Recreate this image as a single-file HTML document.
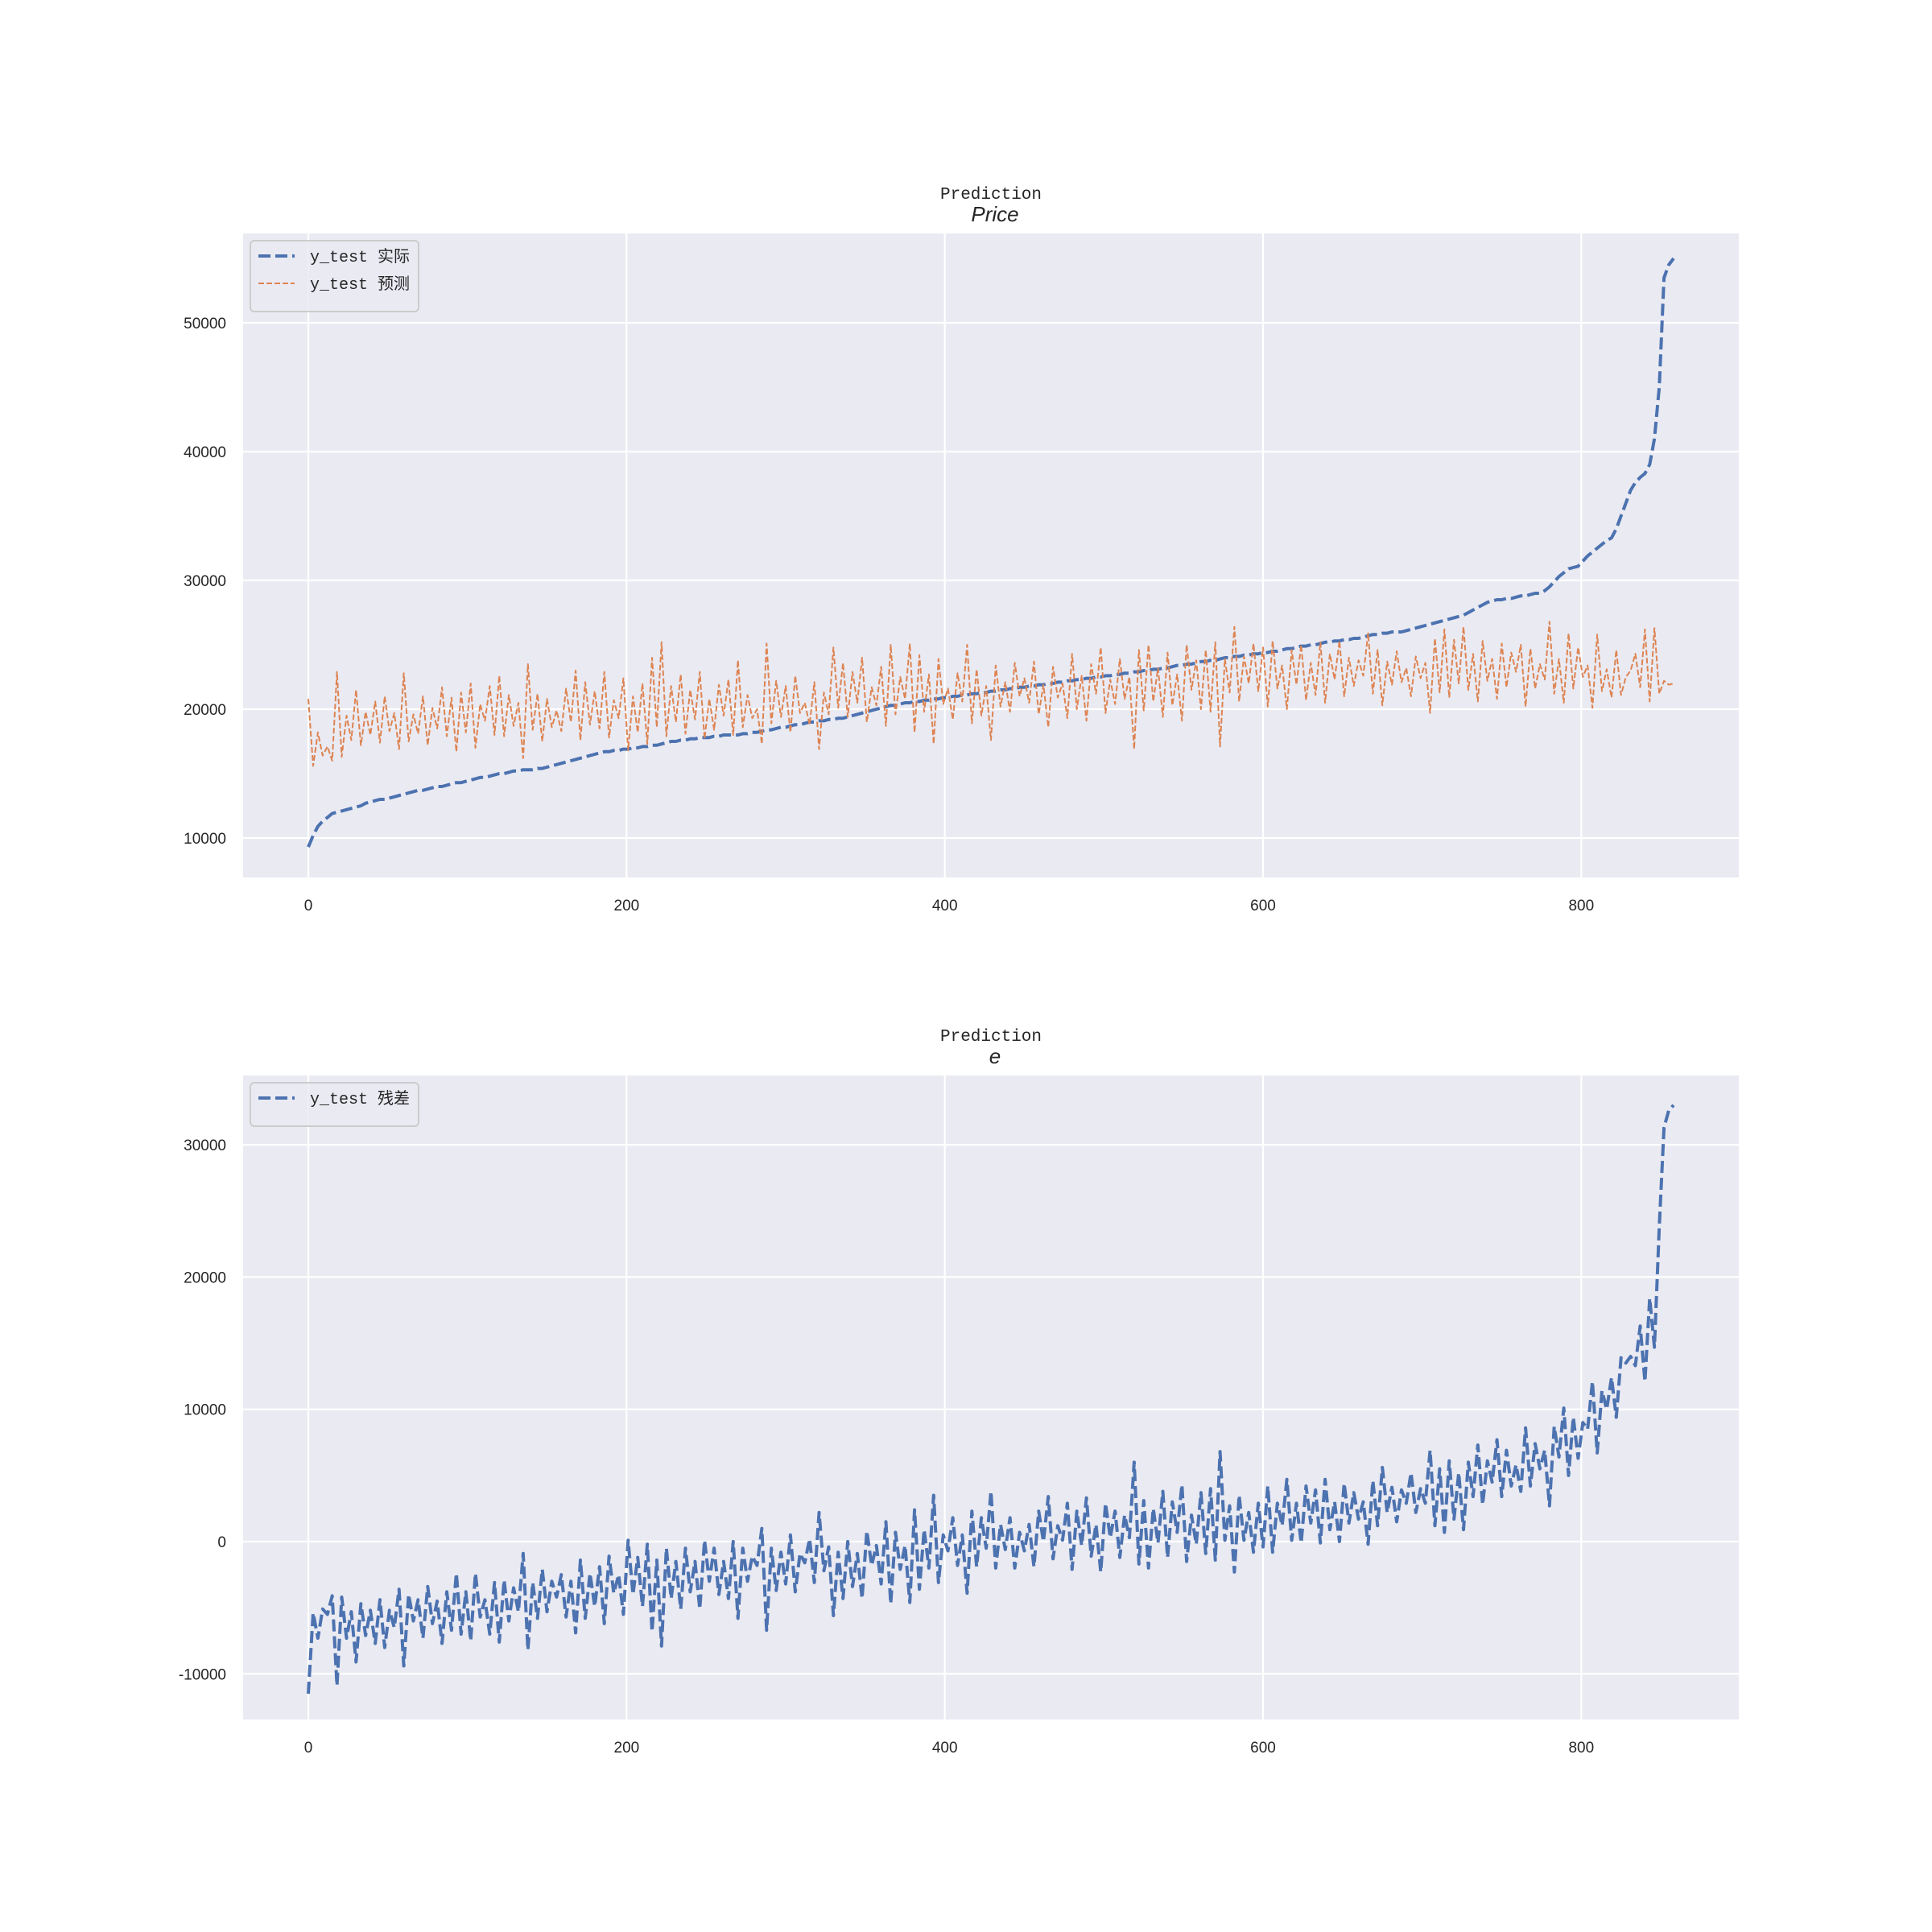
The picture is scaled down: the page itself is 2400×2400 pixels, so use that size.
<!DOCTYPE html>
<html><head><meta charset="utf-8"><style>
html,body{margin:0;padding:0;background:#fff;}
svg{display:block;}
text{font-family:"Liberation Sans","Noto Sans CJK SC",sans-serif;fill:#262626;}
.mono{font-family:"Liberation Mono","Noto Sans CJK SC",monospace;}
</style></head><body>
<svg id="fig" width="2400" height="2400" viewBox="0 0 2400 2400" xmlns="http://www.w3.org/2000/svg"></svg>
<script>
// sample step along test index
const step = 3;
// y_test actual (thousands)
const actual = [9.3,10.2,10.9,11.3,11.6,11.9,12.0,12.1,12.2,12.3,
12.4,12.5,12.7,12.8,12.9,13.0,13.0,13.1,13.2,13.3,
13.4,13.5,13.6,13.7,13.7,13.8,13.9,14.0,14.0,14.1,
14.2,14.3,14.3,14.4,14.5,14.6,14.7,14.7,14.8,14.9,
15.0,15.0,15.1,15.2,15.2,15.3,15.3,15.3,15.4,15.4,
15.5,15.6,15.7,15.8,15.9,16.0,16.1,16.2,16.3,16.4,
16.5,16.6,16.7,16.7,16.8,16.8,16.9,16.9,17.0,17.0,
17.1,17.1,17.2,17.2,17.3,17.4,17.5,17.5,17.6,17.6,
17.7,17.7,17.8,17.8,17.8,17.9,17.9,18.0,18.0,18.0,
18.0,18.1,18.1,18.2,18.2,18.3,18.4,18.4,18.5,18.6,
18.6,18.7,18.8,18.8,18.9,19.0,19.0,19.1,19.1,19.2,
19.2,19.3,19.3,19.4,19.5,19.6,19.7,19.8,19.9,20.0,
20.1,20.2,20.3,20.3,20.4,20.5,20.5,20.6,20.6,20.7,
20.7,20.8,20.8,20.9,20.9,21.0,21.0,21.1,21.1,21.2,
21.2,21.3,21.3,21.4,21.4,21.5,21.5,21.6,21.6,21.7,
21.7,21.8,21.8,21.9,21.9,22.0,22.0,22.1,22.1,22.2,
22.2,22.3,22.3,22.4,22.4,22.5,22.5,22.6,22.6,22.7,
22.7,22.8,22.8,22.9,22.9,23.0,23.0,23.1,23.1,23.2,
23.2,23.3,23.4,23.4,23.5,23.5,23.6,23.7,23.7,23.8,
23.8,23.9,24.0,24.0,24.1,24.1,24.2,24.2,24.3,24.3,
24.4,24.4,24.5,24.5,24.6,24.7,24.7,24.8,24.9,24.9,
25.0,25.0,25.1,25.2,25.2,25.3,25.3,25.4,25.4,25.5,
25.5,25.6,25.7,25.8,25.8,25.9,25.9,26.0,26.0,26.0,
26.1,26.2,26.3,26.4,26.5,26.6,26.7,26.8,26.9,27.0,
27.1,27.2,27.3,27.5,27.7,27.9,28.1,28.3,28.4,28.5,
28.5,28.6,28.6,28.7,28.8,28.8,28.9,29.0,29.0,29.2,
29.5,29.9,30.3,30.6,30.9,31.0,31.1,31.5,31.9,32.2,
32.5,32.8,33.1,33.3,34.0,35.0,36.0,37.0,37.6,38.0,
38.3,39.0,41.0,45.0,53.5,54.5,55.0];
// y_test predicted (thousands)
const predicted = [20.8,15.6,18.2,16.4,17.1,16.0,22.9,16.3,19.5,17.6,
21.5,17.2,19.8,18.0,20.6,17.4,21.0,18.3,19.7,16.9,
22.8,17.5,19.6,18.1,21.0,17.2,20.1,18.5,21.7,17.9,
20.9,16.7,21.3,18.2,22.0,17.0,20.4,19.1,21.8,18.0,
22.6,17.9,21.1,18.7,20.5,16.2,23.5,18.4,21.2,17.5,
20.8,18.6,19.9,18.3,21.6,19.0,23.0,17.6,22.1,18.8,
21.4,18.5,22.9,17.8,20.7,19.3,22.4,16.8,21.0,18.2,
22.0,17.3,24.0,18.6,25.2,17.9,21.8,19.0,22.7,18.1,
21.5,19.2,22.9,17.7,20.8,18.4,21.9,19.5,22.3,18.0,
23.8,18.6,21.1,19.3,20.0,17.3,25.1,18.9,22.2,19.4,
21.8,18.2,22.6,19.7,20.5,18.8,22.1,16.9,21.3,19.6,
24.8,20.1,23.6,19.4,22.9,20.5,24.0,19.0,21.7,20.3,
23.3,18.7,25.0,19.6,22.5,20.8,25.1,18.2,24.2,19.8,
22.7,17.3,23.9,20.4,21.6,19.2,22.8,20.6,25.0,18.9,
23.1,19.5,21.8,17.6,23.4,20.2,22.1,19.8,23.6,21.0,
22.4,20.5,23.7,19.6,21.9,18.6,23.3,20.9,22.0,19.3,
24.3,20.0,22.6,19.1,23.5,21.2,24.8,19.7,22.3,20.4,
23.9,20.8,22.5,16.9,24.6,19.9,25.0,20.6,23.2,19.4,
24.4,20.3,22.7,19.1,25.0,21.5,23.8,20.0,24.6,19.8,
25.2,17.1,23.9,21.3,26.4,20.6,24.1,22.0,25.1,21.4,
24.8,20.2,25.3,21.6,23.4,20.0,24.6,21.9,25.0,20.7,
23.6,21.1,25.2,20.5,24.3,22.3,25.3,21.0,24.0,21.8,
23.8,22.6,25.9,21.2,24.6,20.3,23.7,21.9,24.5,22.1,
23.2,21.0,24.1,22.4,23.6,19.7,25.5,21.3,26.2,20.9,
25.4,22.0,26.4,21.5,24.3,20.6,25.3,22.2,23.9,20.8,
25.1,21.7,24.4,22.9,25.0,20.2,24.7,21.6,23.5,22.3,
26.8,21.2,23.9,20.5,25.9,21.6,24.8,22.5,23.4,20.1,
25.8,21.4,23.1,20.9,24.6,21.1,22.5,23.0,24.3,21.7,
26.2,20.6,26.3,21.2,22.2,21.9,22.0];
// residual (thousands)
const residual = [-11.5,-5.4,-7.3,-5.1,-5.5,-4.1,-10.9,-4.2,-7.3,-5.3,
-9.1,-4.7,-7.1,-5.2,-7.7,-4.4,-8.0,-5.2,-6.5,-3.6,
-9.4,-4.0,-6.0,-4.4,-7.3,-3.4,-6.2,-4.5,-7.7,-3.8,
-6.7,-2.4,-7.0,-3.8,-7.5,-2.4,-5.7,-4.4,-7.0,-3.1,
-7.6,-2.9,-6.0,-3.5,-5.3,-0.9,-8.2,-3.1,-5.8,-2.1,
-5.3,-3.0,-4.2,-2.5,-5.7,-3.0,-6.9,-1.4,-5.8,-2.4,
-4.9,-1.9,-6.2,-1.1,-3.9,-2.5,-5.5,0.1,-4.0,-1.2,
-4.9,-0.2,-6.8,-1.4,-7.9,-0.5,-4.3,-1.5,-5.1,-0.5,
-3.8,-1.5,-5.1,0.1,-3.0,-0.5,-4.0,-1.5,-4.3,0.0,
-5.8,-0.5,-3.0,-1.1,-1.8,1.0,-6.7,-0.5,-3.7,-0.8,
-3.2,0.5,-3.8,-0.9,-1.6,0.2,-3.1,2.2,-2.2,-0.4,
-5.6,-0.8,-4.3,0.0,-3.4,-0.9,-4.3,0.8,-1.8,-0.3,
-3.2,1.5,-4.7,0.7,-2.1,-0.3,-4.6,2.4,-3.6,0.9,
-2.0,3.5,-3.1,0.5,-0.7,1.8,-1.8,0.5,-3.9,2.3,
-1.9,1.8,-0.5,3.8,-2.0,1.3,-0.6,1.8,-2.0,0.7,
-0.7,1.3,-1.9,2.3,0.0,3.4,-1.3,1.2,0.1,2.9,
-2.1,2.3,-0.3,3.3,-1.1,1.3,-2.3,2.9,0.3,2.3,
-1.2,2.0,0.3,6.0,-1.7,3.1,-2.0,2.5,-0.1,3.8,
-1.2,3.0,0.7,4.3,-1.5,2.0,-0.2,3.7,-0.9,4.0,
-1.4,6.8,0.1,2.7,-2.3,3.5,0.1,2.2,-0.8,2.9,
-0.4,4.2,-0.8,2.9,1.2,4.7,0.1,2.9,-0.1,4.2,
1.4,3.9,-0.1,4.7,0.9,3.0,0.0,4.4,1.4,3.7,
1.7,3.0,-0.2,4.6,1.2,5.6,2.2,4.1,1.5,3.9,
2.9,5.2,2.2,4.0,2.9,6.9,1.2,5.5,0.7,6.1,
1.7,5.2,0.9,6.0,3.4,7.3,2.8,6.1,4.5,7.7,
3.4,6.9,4.2,5.8,3.8,8.6,4.2,7.4,5.5,6.9,
2.7,8.7,6.4,10.1,5.0,9.4,6.3,9.0,8.5,12.1,
6.7,11.4,10.0,12.4,9.4,13.9,13.5,14.0,13.3,16.3,
12.1,18.4,14.7,23.8,31.3,32.6,33.0];
const xTicks = [0,200,400,600,800];
const yTicksTop = [10000,20000,30000,40000,50000];
const yTicksBot = [-10000,0,10000,20000,30000];

const NS = "http://www.w3.org/2000/svg";
const svg = document.getElementById('fig');
function mk(tag, attrs, parent){
  const e = document.createElementNS(NS, tag);
  for (const k in attrs) e.setAttribute(k, attrs[k]);
  (parent||svg).appendChild(e);
  return e;
}
const L = 302, R = 2160;
const xMin = -41, xMax = 899;
function sx(v){ return L + (v - xMin) / (xMax - xMin) * (R - L); }

function panel(name, top, bottom, yMin, yMax, yTicks, series, legendItems, title2){
  const g = mk('g', {});
  
  
  const sy = v => bottom - (v - yMin) / (yMax - yMin) * (bottom - top);
  const bg = mk('rect', {x:L, y:top, width:R-L, height:bottom-top, fill:'#eaeaf2'}, g);
  
  
  xTicks.forEach(t => {
    const ln = mk('line', {x1:sx(t), x2:sx(t), y1:top, y2:bottom, stroke:'#fff', 'stroke-width':2.2}, g);
    
    
    const tx = mk('text', {x:sx(t), y:bottom+41, 'font-size':19, 'text-anchor':'middle'}, g);
    tx.textContent = t;
    
    
  });
  yTicks.forEach(t => {
    const ln = mk('line', {x1:L, x2:R, y1:sy(t), y2:sy(t), stroke:'#fff', 'stroke-width':2.2}, g);
    
    
    const tx = mk('text', {x:281, y:sy(t)+7, 'font-size':19, 'text-anchor':'end'}, g);
    tx.textContent = t;
    
    
  });
  series.forEach(s => {
    const pts = s.data.map((v,i) => sx(i*step).toFixed(1) + ',' + sy(v*1000).toFixed(1)).join(' ');
    const pl = mk('polyline', {points:pts, fill:'none', stroke:s.color, 'stroke-width':s.w, 'stroke-dasharray':s.dash, 'stroke-linejoin':'round'}, g);
    
    
  });
  // titles
  const t1 = mk('text', {x:1231, y:top-43, 'font-size':21, 'text-anchor':'middle', class:'mono'}, g);
  t1.textContent = 'Prediction';
  
  
  const t2 = mk('text', {x:1236, y:top-15, 'font-size':26, 'text-anchor':'middle', 'font-style':'italic'}, g);
  t2.textContent = title2;
  
  
  // legend
  const lg = mk('g', {}, g);
  
  
  const h = 20 + legendItems.length * 34;
  mk('rect', {x:311, y:top+9, width:209, height:h, rx:5, fill:'#eaeaf2', 'fill-opacity':0.8, stroke:'#cccccc', 'stroke-width':2}, lg);
  legendItems.forEach((it, i) => {
    const yy = top + 28 + i*34;
    const ln = mk('line', {x1:321, x2:366, y1:yy, y2:yy, stroke:it.color, 'stroke-width':it.w, 'stroke-dasharray':it.dash}, lg);
    
    
    const tx = mk('text', {x:385, y:yy+7, 'font-size':20, class:'mono'}, lg);
    tx.textContent = it.label;
    
    
  });
}
const blue = '#4c72b0', orange = '#dd8452';
panel('price-panel', 290, 1090, 6937, 56937, yTicksTop,
  [{name:'actual-line', data:actual, color:blue, w:4, dash:'15 6'},
   {name:'predicted-line', data:predicted, color:orange, w:2, dash:'7 3'}],
  [{label:'y_test 实际', color:blue, w:4, dash:'15 6'},
   {label:'y_test 预测', color:orange, w:2, dash:'7 3'}], 'Price');
panel('residual-panel', 1336, 2136, -13450, 35240, yTicksBot,
  [{name:'residual-line', data:residual, color:blue, w:4, dash:'15 6'}],
  [{label:'y_test 残差', color:blue, w:4, dash:'15 6'}], 'e');
</script>
</body></html>
